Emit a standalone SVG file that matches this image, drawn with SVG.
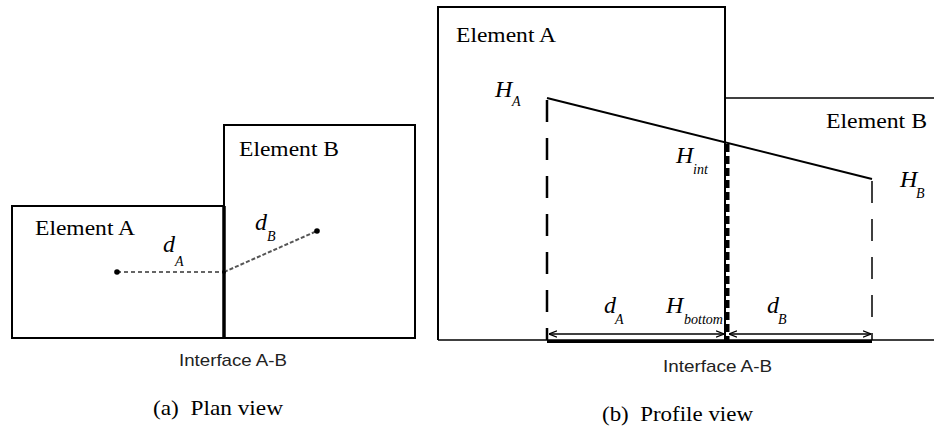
<svg xmlns="http://www.w3.org/2000/svg" width="934" height="428" viewBox="0 0 934 428">
<defs>
<style>
.box{fill:none;stroke:#000;stroke-width:2}
.serif{font-family:"Liberation Serif","Times New Roman",serif;fill:#000}
.sans{font-family:"Liberation Sans",Arial,sans-serif;fill:#222;font-size:17px}
.lbl{font-size:21px}
.var{font-style:italic;font-size:24px}
.sub{font-style:italic;font-size:14px}
.cap{font-size:21px}
</style>
<marker id="arr" viewBox="0 0 10 10" refX="10" refY="5" markerWidth="8" markerHeight="8" orient="auto-start-reverse" markerUnits="userSpaceOnUse">
<path d="M0,1 L10,5 L0,9" fill="none" stroke="#000" stroke-width="1.5"/>
</marker>
</defs>
<rect width="934" height="428" fill="#fff"/>

<!-- Plan view -->
<g id="planA">
<rect class="box" x="12" y="206" width="212" height="132"/>
<text class="serif lbl" x="35" y="235" textLength="100" lengthAdjust="spacingAndGlyphs">Element A</text>
</g>
<g id="planB">
<rect class="box" x="224" y="125" width="191" height="213"/>
<text class="serif lbl" x="239" y="156" textLength="100" lengthAdjust="spacingAndGlyphs">Element B</text>
</g>
<g id="planConnectors">
<line x1="224" y1="206" x2="224" y2="339" stroke="#000" stroke-width="3.5"/>
<line x1="117" y1="272" x2="224" y2="272" stroke="#333" stroke-width="1.3" stroke-dasharray="4 3"/>
<line x1="224" y1="272" x2="317" y2="231" stroke="#555" stroke-width="2" stroke-dasharray="4 2"/>
<circle cx="117" cy="272" r="2.8" fill="#000"/>
<circle cx="224" cy="272" r="2" fill="#000"/>
<circle cx="317" cy="231" r="2.8" fill="#000"/>
</g>
<g id="planLabels">
<text class="serif var" x="163" y="252">d</text>
<text class="serif sub" x="175" y="266">A</text>
<text class="serif var" x="255" y="230">d</text>
<text class="serif sub" x="267" y="241">B</text>
<text class="sans" x="179" y="366" textLength="108" lengthAdjust="spacingAndGlyphs">Interface A-B</text>
<text class="serif cap" x="153" y="415" textLength="130" lengthAdjust="spacingAndGlyphs" xml:space="preserve">(a)  Plan view</text>
</g>

<!-- Profile view -->
<g id="profA">
<polyline class="box" points="438,340 438,7 725,7 725,340" stroke-width="1.8"/>
<text class="serif lbl" x="456" y="42" textLength="100" lengthAdjust="spacingAndGlyphs">Element A</text>
</g>
<g id="profB">
<line x1="725" y1="98" x2="934" y2="98" stroke="#000" stroke-width="1.5"/>
<line x1="438" y1="340" x2="934" y2="340" stroke="#000" stroke-width="1.5"/>
<text class="serif lbl" x="826" y="128" textLength="101" lengthAdjust="spacingAndGlyphs">Element B</text>
</g>
<g id="profConnectors">
<line x1="547" y1="98" x2="872" y2="179" stroke="#000" stroke-width="2"/>
<line x1="547" y1="100" x2="547" y2="340" stroke="#000" stroke-width="2.5" stroke-dasharray="22 16"/>
<line x1="872" y1="181" x2="872" y2="340" stroke="#000" stroke-width="1.5" stroke-dasharray="22 16"/>
<line x1="727.5" y1="144" x2="727.5" y2="340" stroke="#000" stroke-width="4" stroke-dasharray="8 4"/>
<line x1="547" y1="341.5" x2="872" y2="341.5" stroke="#000" stroke-width="3"/>
<line x1="549" y1="334" x2="724" y2="334" stroke="#000" stroke-width="1.5" marker-start="url(#arr)" marker-end="url(#arr)"/>
<line x1="729" y1="334" x2="871" y2="334" stroke="#000" stroke-width="1.5" marker-start="url(#arr)" marker-end="url(#arr)"/>
</g>
<g id="profLabels">
<text class="serif var" x="495" y="97">H</text>
<text class="serif sub" x="512" y="106">A</text>
<text class="serif var" x="676" y="163">H</text>
<text class="serif sub" x="693" y="174">int</text>
<text class="serif var" x="900" y="187">H</text>
<text class="serif sub" x="916" y="198">B</text>
<text class="serif var" x="604" y="313">d</text>
<text class="serif sub" x="615" y="324">A</text>
<text class="serif var" x="666" y="313">H</text>
<text class="serif sub" x="684" y="324">bottom</text>
<text class="serif var" x="767" y="313">d</text>
<text class="serif sub" x="778" y="324">B</text>
<text class="sans" x="663" y="372" textLength="109" lengthAdjust="spacingAndGlyphs">Interface A-B</text>
<text class="serif cap" x="602" y="421" textLength="151" lengthAdjust="spacingAndGlyphs" xml:space="preserve">(b)  Profile view</text>
</g>
</svg>
